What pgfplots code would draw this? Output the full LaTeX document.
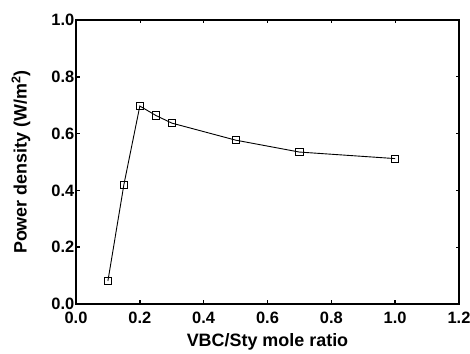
\documentclass[border=0pt]{standalone}
\usepackage{pgfplots}
\pgfplotsset{compat=1.18}
\usepackage{fontspec}
\setmainfont{Liberation Sans}
\begin{document}
\begin{tikzpicture}
\begin{axis}[
  name=ax,
  scale only axis,
  width=383bp, height=284bp,
  xmin=0, xmax=1.2, ymin=0, ymax=1.0,
  xtick={0,0.2,...,1.2}, ytick={0,0.2,...,1.0},
  xtick pos=bottom, ytick pos=left,
  tick align=inside,
  major tick length=4.5bp,
  every tick/.style={line width=1.6bp, black},
  axis line style={line width=2.2bp},
  /pgf/number format/assume math mode=true,
  /pgf/number format/fixed, /pgf/number format/fixed zerofill, /pgf/number format/precision=1,
  tick label style={font=\bfseries\fontsize{16.5}{16.5}\selectfont},
  yticklabel style={inner xsep=1.5bp, inner ysep=0pt},
  xticklabel style={inner ysep=0pt, yshift=-8bp},
  xlabel={VBC/Sty mole ratio},
  ylabel={Power density (W/m\textsuperscript{2})},
  label style={font=\bfseries\fontsize{18}{18}\selectfont},
  xlabel style={yshift=-6bp},
  ylabel style={yshift=16bp},
  clip=false,
]
\addplot[black, line width=0.9bp, mark=square, mark size=3.6bp, mark options={line width=0.9bp, fill=white}]
coordinates {(0.1,0.081) (0.15,0.420) (0.2,0.697) (0.25,0.664) (0.3,0.637) (0.5,0.577) (0.7,0.535) (1.0,0.512)};
\end{axis}
\begin{axis}[
  scale only axis,
  width=383bp, height=284bp,
  xmin=0, xmax=1.2, ymin=0, ymax=1.0,
  xtick={0,0.2,...,1.2}, ytick={0,0.2,...,1.0},
  xtick pos=top, ytick pos=right,
  tick align=inside,
  major tick length=3bp,
  every tick/.style={line width=0.6bp, black},
  xticklabels={}, yticklabels={},
  axis line style={line width=2.2bp},
]
\end{axis}
\pgfresetboundingbox
\path ([shift={(-76bp,-50bp)}]ax.south west) rectangle ([shift={(11bp,20bp)}]ax.north east);
\end{tikzpicture}
\end{document}
